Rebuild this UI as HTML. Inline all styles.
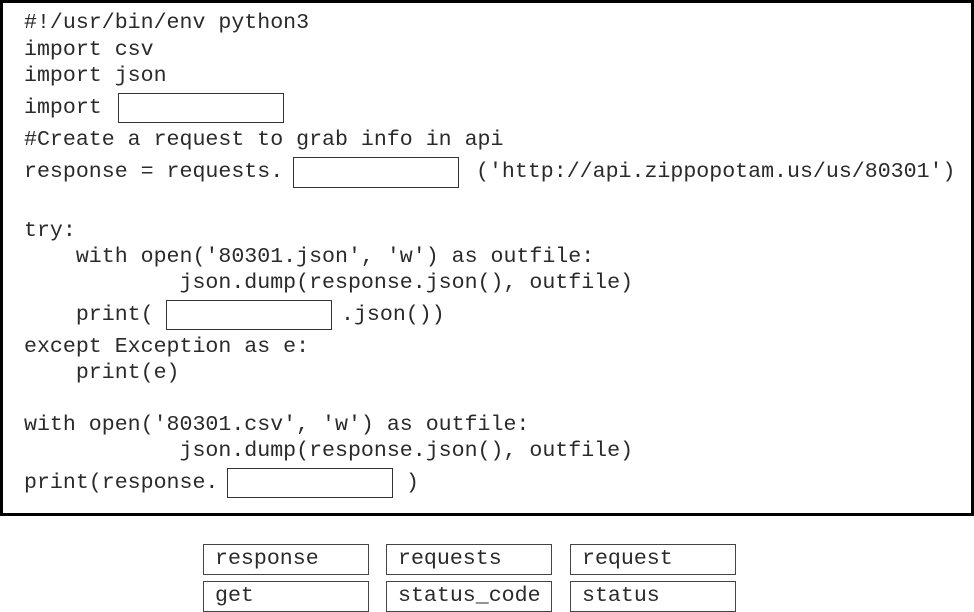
<!DOCTYPE html>
<html><head><style>
body{margin:0;width:974px;height:612px;background:#fff;position:relative;overflow:hidden;font-family:"Liberation Mono","DejaVu Sans Mono",monospace;font-size:21.6px;color:#2a2a2a}
.frame{position:absolute;left:0;top:0;width:968px;height:510px;border:3px solid #000}
.l{position:absolute;white-space:pre;line-height:26px;height:26px}
.b{position:absolute;border:1.5px solid #333;box-sizing:border-box;background:#fff}
.w{position:absolute;border:1.5px solid #444;box-sizing:border-box;height:31px;width:166px;line-height:28px;padding-left:11px;white-space:pre}
</style></head><body>
<div class="frame"></div>
<div class="l" style="left:24px;top:10px">#!/usr/bin/env python3</div>
<div class="l" style="left:24px;top:37px">import csv</div>
<div class="l" style="left:24px;top:63px">import json</div>
<div class="l" style="left:24px;top:95px">import</div>
<div class="b" style="left:118px;top:93px;width:166px;height:30px"></div>
<div class="l" style="left:24px;top:127px">#Create a request to grab info in api</div>
<div class="l" style="left:24px;top:159px">response = requests.</div>
<div class="b" style="left:293px;top:157px;width:166px;height:31px"></div>
<div class="l" style="left:476px;top:159px">('http://api.zippopotam.us/us/80301')</div>
<div class="l" style="left:24px;top:218px">try:</div>
<div class="l" style="left:24px;top:244px">    with open('80301.json', 'w') as outfile:</div>
<div class="l" style="left:24px;top:270px">            json.dump(response.json(), outfile)</div>
<div class="l" style="left:24px;top:302px">    print(</div>
<div class="b" style="left:166px;top:300px;width:166px;height:30px"></div>
<div class="l" style="left:341px;top:302px">.json())</div>
<div class="l" style="left:24px;top:334px">except Exception as e:</div>
<div class="l" style="left:24px;top:360px">    print(e)</div>
<div class="l" style="left:24px;top:412px">with open('80301.csv', 'w') as outfile:</div>
<div class="l" style="left:24px;top:438px">            json.dump(response.json(), outfile)</div>
<div class="l" style="left:24px;top:470px">print(response.</div>
<div class="b" style="left:227px;top:468px;width:166px;height:30px"></div>
<div class="l" style="left:406px;top:470px">)</div>
<div class="w" style="left:203px;top:544px">response</div>
<div class="w" style="left:386px;top:544px">requests</div>
<div class="w" style="left:570px;top:544px">request</div>
<div class="w" style="left:203px;top:581px">get</div>
<div class="w" style="left:386px;top:581px">status_code</div>
<div class="w" style="left:570px;top:581px">status</div>
</body></html>
